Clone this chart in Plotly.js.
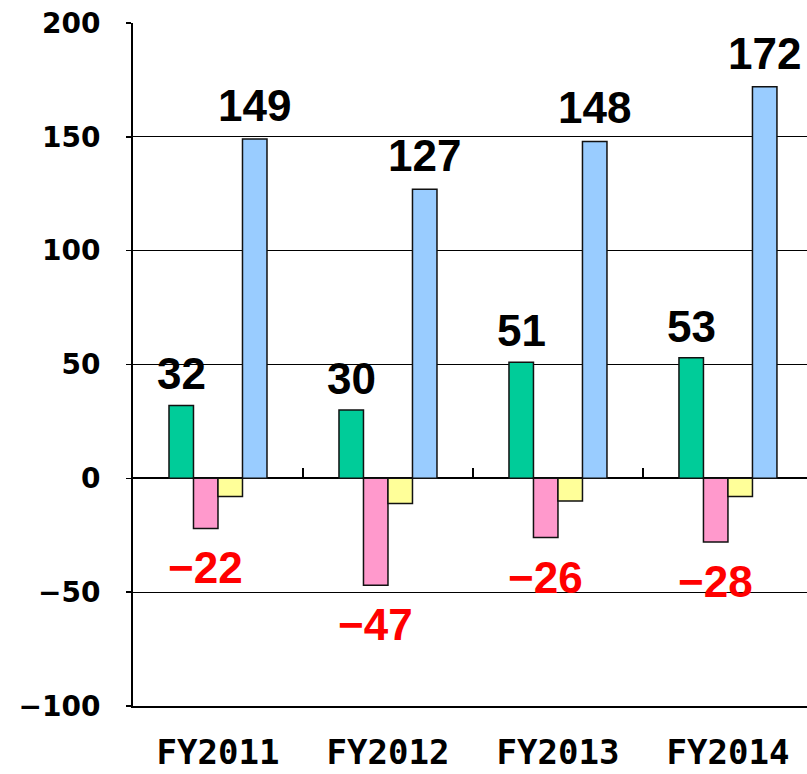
<!DOCTYPE html>
<html>
<head>
<meta charset="utf-8">
<script src="https://cdn.plot.ly/plotly-3.0.1.min.js"></script>
<style>html,body{margin:0;padding:0;background:#fff;}</style>
</head>
<body>
<div id="chart" style="width:807px;height:774px;"></div>
<script>
var categories = ['FY2011', 'FY2012', 'FY2013', 'FY2014'];
var greenValues = [32, 30, 51, 53];
var pinkValues = [-22, -47, -26, -28];
var yellowValues = [-8, -11, -10, -8];
var blueValues = [149, 127, 148, 172];
var yTickVals = [-100, -50, 0, 50, 100, 150, 200];
var yTickText = ['\u2212100', '\u221250', '0', '50', '100', '150', '200'];
var dividerVals = [0.5, 1.5, 2.5];

function fmt(v) { return v < 0 ? '\u2212' + Math.abs(v) : String(v); }

var lineStyle = {color: '#111', width: 1.5};
function barTrace(vals, color) {
  return {type: 'bar', x: categories, y: vals, marker: {color: color, line: lineStyle},
          hoverinfo: 'skip', showlegend: false};
}
var traces = [
  barTrace(greenValues, '#00CC99'),
  barTrace(pinkValues, '#FF99CC'),
  barTrace(yellowValues, '#FFFF99'),
  barTrace(blueValues, '#99CCFF'),
  {type: 'scatter', x: [], y: [], xaxis: 'x2', showlegend: false, hoverinfo: 'skip'}
];

var labelFont = {family: '"Liberation Sans", Arial, sans-serif', size: 44, weight: 'bold'};
var barPx = 24.5;
var annotations = [];
categories.forEach(function (c, i) {
  annotations.push({x: c, y: greenValues[i], xref: 'x', yref: 'y', text: fmt(greenValues[i]),
    showarrow: false, xshift: -1.5 * barPx, yanchor: 'bottom', yshift: 5, font: Object.assign({color: '#000'}, labelFont)});
  annotations.push({x: c, y: blueValues[i], xref: 'x', yref: 'y', text: fmt(blueValues[i]),
    showarrow: false, xshift: 1.5 * barPx, yanchor: 'bottom', yshift: 7, font: Object.assign({color: '#000'}, labelFont)});
  annotations.push({x: c, y: pinkValues[i], xref: 'x', yref: 'y', text: fmt(pinkValues[i]),
    showarrow: false, xshift: -0.5 * barPx, yanchor: 'top', yshift: -13, font: Object.assign({color: '#FF0000'}, labelFont)});
});

var layout = {
  width: 807, height: 774,
  margin: {l: 133, r: 0, t: 23, b: 68},
  paper_bgcolor: '#fff', plot_bgcolor: '#fff',
  barmode: 'group', bargap: 0.4235, bargroupgap: 0,
  showlegend: false,
  xaxis: {
    type: 'category', range: [-0.5, 3.465],
    showgrid: false, zeroline: false, showline: true, linecolor: '#000', linewidth: 1.5,
    ticks: '', ticklabelstandoff: 16,
    tickfont: {family: '"DejaVu Sans Mono", monospace', size: 34, weight: 'bold', color: '#000'},
    fixedrange: true
  },
  xaxis2: {
    overlaying: 'x', anchor: 'free', position: 1 / 3, side: 'bottom',
    range: [-0.5, 3.465], showgrid: false, zeroline: false, showline: false,
    tickmode: 'array', tickvals: dividerVals, ticks: 'inside', ticklen: 10, tickwidth: 1.5, tickcolor: '#000',
    showticklabels: false, fixedrange: true
  },
  yaxis: {
    range: [-100, 200], tickmode: 'array', tickvals: yTickVals, ticktext: yTickText,
    showgrid: true, gridcolor: '#000', gridwidth: 1,
    zeroline: true, zerolinecolor: '#000', zerolinewidth: 2,
    showline: true, linecolor: '#000', linewidth: 2,
    ticks: 'outside', ticklen: 5, tickwidth: 1.5, tickcolor: '#000',
    ticklabelstandoff: 20,
    tickfont: {family: '"DejaVu Sans", sans-serif', size: 28, weight: 'bold', color: '#000'},
    fixedrange: true
  },
  annotations: annotations
};

Plotly.newPlot('chart', traces, layout, {staticPlot: true, displayModeBar: false});
</script>
</body>
</html>
